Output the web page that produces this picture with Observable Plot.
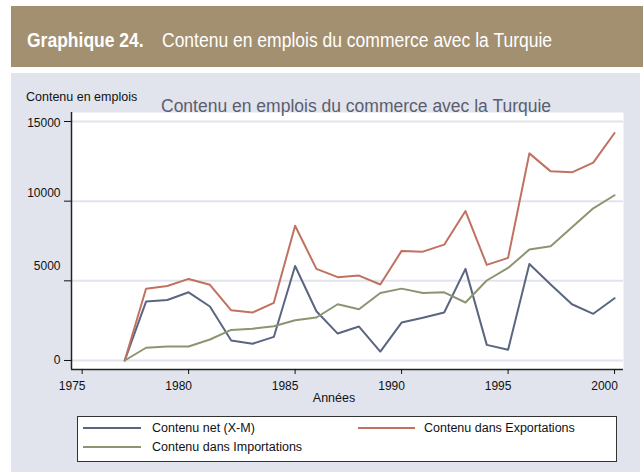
<!DOCTYPE html>
<html><head><meta charset="utf-8">
<script src="https://cdn.jsdelivr.net/npm/d3@7"></script>
<script src="https://cdn.jsdelivr.net/npm/@observablehq/plot@0.6"></script>
<style>
body{margin:0;background:#fff;font-family:"Liberation Sans",Arial,sans-serif;}
#wrap{position:relative;width:643px;height:472px;overflow:hidden;background:#fff;}
#band{position:absolute;left:11px;top:6px;width:632px;height:61px;background:#a39070;}
.hd{position:absolute;top:30px;font-size:20px;line-height:20px;color:#fff;white-space:nowrap;transform:scaleX(0.875);transform-origin:0 0;}
#panel{position:absolute;left:11px;top:73px;width:629px;height:399px;background:#e1e4ed;}
#chart{position:absolute;left:0;top:0;}
#ititle{position:absolute;left:161px;top:98px;font-size:17.5px;line-height:17.5px;color:#5b5e6e;white-space:nowrap;}
#ylab{position:absolute;left:26px;top:91px;font-size:12.5px;line-height:12.5px;color:#111;white-space:nowrap;}
#xlab{position:absolute;left:334px;top:392px;font-size:12.5px;line-height:12.5px;color:#111;white-space:nowrap;transform:translateX(-50%);}
#legend{position:absolute;left:77px;top:416px;width:538px;height:44px;border:1px solid #333;background:#fff;}
.sw{position:absolute;height:2px;}
.lt{position:absolute;font-size:12.5px;line-height:14px;color:#111;white-space:nowrap;}
</style></head>
<body>
<div id="wrap">
  <div id="band"></div>
  <div class="hd" style="left:27px;font-weight:bold;">Graphique 24.</div>
  <div class="hd" style="left:162px;">Contenu en emplois du commerce avec la Turquie</div>
  <div id="panel"></div>
  <div id="chart"></div>
  <div id="ititle">Contenu en emplois du commerce avec la Turquie</div>
  <div id="ylab">Contenu en emplois</div>
  <div id="xlab">Années</div>
  <div id="legend"></div>
</div>
<script>
const years = [1977,1978,1979,1980,1981,1982,1983,1984,1985,1986,1987,1988,1989,1990,1991,1992,1993,1994,1995,1996,1997,1998,1999,2000];
const netValues = [0,3700,3800,4280,3390,1250,1050,1480,5930,3090,1690,2130,560,2380,2680,3010,5750,980,670,6060,4770,3530,2930,3910];
const exportValues = [0,4500,4680,5120,4750,3150,3010,3620,8460,5750,5230,5330,4770,6880,6830,7270,9380,6000,6440,13000,11870,11810,12420,14280];
const importValues = [0,800,880,880,1320,1920,1990,2150,2530,2700,3530,3220,4240,4510,4240,4280,3640,5020,5810,6960,7170,8360,9550,10370];
const seriesNames = ["Contenu net (X-M)", "Contenu dans Exportations", "Contenu dans Importations"];
const xTicks = [1975, 1980, 1985, 1990, 1995, 2000];
const yTicks = [0, 5000, 10000, 15000];

const seriesColors = ["#5a6581", "#c07160", "#8c9571"];
const yLabelShift = [0, -15, -8, 1.5];
const xDomain = [1974.5, 2000.42];
const yDomain = [-565, 15565];

const seriesValues = [netValues, exportValues, importValues];
const rows = [];
seriesNames.forEach((name, s) => {
  years.forEach((yr, i) => rows.push({year: yr, value: seriesValues[s][i], series: name}));
});

const chart = Plot.plot({
  width: 643, height: 472,
  marginLeft: 71, marginRight: 20, marginTop: 112, marginBottom: 103,
  x: {domain: xDomain, label: null},
  y: {domain: yDomain, label: null},
  color: {domain: seriesNames, range: seriesColors},
  style: {background: "transparent", fontFamily: "'Liberation Sans', Arial, sans-serif", fontSize: "12px", color: "#111", overflow: "visible"},
  marks: [
    Plot.frame({fill: "white", stroke: "none"}),
    Plot.ruleY(yTicks, {y: d => d, stroke: "#e1e4ed", strokeWidth: 2}),
    Plot.lineY(rows, {x: "year", y: "value", z: "series", stroke: "series", strokeWidth: 2}),
    Plot.ruleX([xDomain[0]], {x: d => d, stroke: "#222", strokeWidth: 1.5}),
    Plot.ruleY([yDomain[0]], {y: d => d, stroke: "#222", strokeWidth: 1.5}),
    Plot.axisX({ticks: xTicks, tickSize: 5, fill: "none", label: null}),
    Plot.axisX({ticks: xTicks, tickSize: 0, tickPadding: 12, dx: -10, tickFormat: d => String(d), label: null}),
    Plot.axisY({ticks: yTicks, tickSize: 7, fill: "none", label: null}),
    ...yTicks.map((t, i) => Plot.axisY({ticks: [t], tickSize: 0, tickPadding: 11, dy: yLabelShift[i], tickFormat: d => String(d), label: null}))
  ]
});
document.getElementById("chart").appendChild(chart);

// legend
const leg = document.getElementById("legend");
const legendSlots = [
  {sw: [5, 10, 58], tx: [74, 4]},
  {sw: [280, 10, 57], tx: [346, 4]},
  {sw: [5, 29, 58], tx: [74, 23]}
];
seriesNames.forEach((name, i) => {
  const s = legendSlots[i];
  const sw = document.createElement("div");
  sw.className = "sw";
  sw.style.left = s.sw[0] + "px"; sw.style.top = s.sw[1] + "px"; sw.style.width = s.sw[2] + "px";
  sw.style.background = seriesColors[i];
  leg.appendChild(sw);
  const tx = document.createElement("div");
  tx.className = "lt";
  tx.style.left = s.tx[0] + "px"; tx.style.top = s.tx[1] + "px";
  tx.textContent = name;
  leg.appendChild(tx);
});
</script>
</body></html>
